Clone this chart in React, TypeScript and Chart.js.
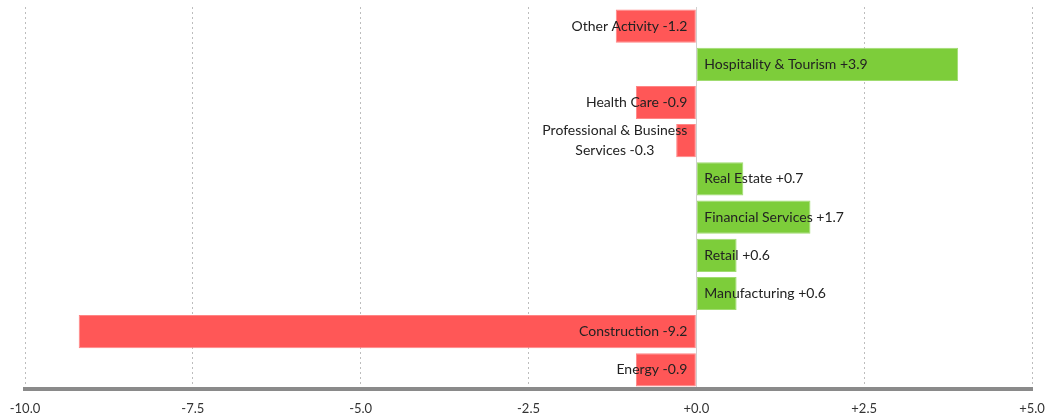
import React, { useEffect, useRef } from "react";
import { Chart, registerables } from "chart.js";

Chart.register(...registerables);

const categories = [
  "Other Activity",
  "Hospitality & Tourism",
  "Health Care",
  "Professional & Business\nServices",
  "Real Estate",
  "Financial Services",
  "Retail",
  "Manufacturing",
  "Construction",
  "Energy",
];
const values = [-1.2, 3.9, -0.9, -0.3, 0.7, 1.7, 0.6, 0.6, -9.2, -0.9];
const xTicks = [-10, -7.5, -5, -2.5, 0, 2.5, 5];

const RED = "#FF5757";
const RED_EDGE = "#FF8585";
const GREEN = "#7DCD3A";
const GREEN_EDGE = "#A0DC70";

const fmt = (v: number) => (v < 0 ? "-" : "+") + Math.abs(v).toFixed(1);
const fmtShort = (v: number) => (v < 0 ? "-" : "+") + Math.abs(v).toString();

const labelPlugin = {
  id: "barLabels",
  afterDatasetsDraw(chart: any) {
    const ctx = chart.ctx;
    const x = chart.scales.x;
    const meta = chart.getDatasetMeta(0);
    const zero = x.getPixelForValue(0);
    ctx.save();
    ctx.font = "14px Lato, 'Open Sans', sans-serif";
    ctx.fillStyle = "#222";
    ctx.textBaseline = "middle";
    values.forEach((v, i) => {
      const el = meta.data[i];
      const text = categories[i] + " " + fmtShort(v);
      const lines = text.split("\n");
      const lh = 20;
      const y0 = el.y - ((lines.length - 1) * lh) / 2;
      const maxW = Math.max(...lines.map((l) => ctx.measureText(l).width));
      const cx = v < 0 ? zero - 9 - maxW / 2 : zero + 8 + maxW / 2;
      ctx.textAlign = "center";
      lines.forEach((l, k) => ctx.fillText(l, cx, y0 + k * lh));
    });
    ctx.restore();
  },
};

export default function App() {
  const ref = useRef<HTMLCanvasElement>(null);
  useEffect(() => {
    document.body.style.margin = "0";
    const chart = new Chart(ref.current!, {
      type: "bar",
      data: {
        labels: categories,
        datasets: [
          {
            data: values,
            backgroundColor: values.map((v) => (v < 0 ? RED : GREEN)),
            borderColor: values.map((v) => (v < 0 ? RED_EDGE : GREEN_EDGE)),
            borderWidth: 1,
            borderSkipped: false,
            categoryPercentage: 0.87,
            barPercentage: 1,
          },
        ],
      },
      options: {
        indexAxis: "y",
        animation: false,
        responsive: false,
        maintainAspectRatio: false,
        layout: { padding: { left: 25, right: 22, top: 7, bottom: 0 } },
        plugins: { legend: { display: false }, tooltip: { enabled: false } },
        scales: {
          x: {
            min: -10,
            max: 5,
            afterBuildTicks: (s: any) => {
              s.ticks = xTicks.map((v) => ({ value: v }));
            },
            afterFit: (s: any) => {
              s.height = 28;
              s.paddingLeft = 0;
              s.paddingRight = 0;
            },
            grid: {
              drawTicks: false,
              color: (c: any) => (c.tick && c.tick.value === 0 ? "#d0d0d0" : "#bdbdbd"),
              lineWidth: 1,
            },
            border: {
              display: true,
              color: "#8a8a8a",
              width: 4,
              dash: (c: any) => (c.tick && c.tick.value === 0 ? [] : [2, 3]),
            },
            ticks: {
              padding: 12,
              color: "#333",
              font: { size: 13, family: "Lato, 'Open Sans', sans-serif" },
              callback: (v: any) => fmt(Number(v)),
            },
          },
          y: {
            display: false,
          },
        },
      },
      plugins: [labelPlugin],
    });
    return () => chart.destroy();
  }, []);
  return (
    <div style={{ width: 1054, height: 417 }}>
      <canvas ref={ref} width={1054} height={417} />
    </div>
  );
}
